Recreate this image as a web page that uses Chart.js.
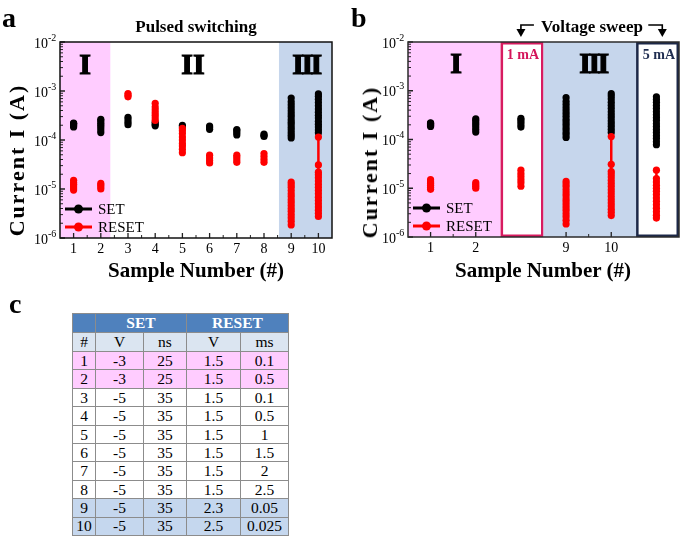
<!DOCTYPE html>
<html>
<head>
<meta charset="utf-8">
<script src="https://cdn.jsdelivr.net/npm/chart.js@4.4.1/dist/chart.umd.min.js"></script>
<style>
  body { margin: 0; width: 685px; height: 538px; background: #fff; position: relative; overflow: hidden;
         font-family: 'Liberation Serif', 'Times New Roman', serif; }
  canvas { position: absolute; }
  #chartA { left: 0; top: 0; }
  #chartB { left: 340px; top: 0; }
  .t { position: absolute; white-space: nowrap; line-height: 1; color: #000; }
  .bold { font-weight: bold; }
  .ctr { transform: translate(-50%, -50%); }
  .rot { transform: translate(-50%, -50%) rotate(-90deg); }
  .panel { font-size: 28px; font-weight: bold; }
  .ytitle { font-size: 22px; font-weight: bold; letter-spacing: 2px; }
  .xtitle { font-size: 21px; font-weight: bold; }
  .roman { font-size: 30px; font-weight: bold; -webkit-text-stroke: 1.2px #000; }
  #tbl { position: absolute; left: 72px; top: 313px; width: 216px; border-collapse: collapse;
         table-layout: fixed; font-size: 15.5px; }
  #tbl td { border: 1px solid #8c8c8c; text-align: center; padding: 0; line-height: 1; }
</style>
</head>
<body>
<canvas id="chartA" width="345" height="285"></canvas>
<canvas id="chartB" width="345" height="285"></canvas>

<div class="t panel" style="left:2px;top:3.5px;">a</div>
<div class="t panel" style="left:351px;top:3.5px;">b</div>
<div class="t panel" style="left:9px;top:289.5px;">c</div>

<div class="t bold ctr" style="left:196px;top:26px;font-size:17px;">Pulsed switching</div>
<div class="t bold ctr" style="left:592px;top:25.5px;font-size:17px;">Voltage sweep</div>

<div class="t ytitle rot" style="left:17px;top:160px;">Current I (A)</div>
<div class="t ytitle rot" style="left:370px;top:162px;">Current I (A)</div>
<div class="t xtitle ctr" style="left:196px;top:270px;">Sample Number (#)</div>
<div class="t xtitle ctr" style="left:543px;top:270px;">Sample Number (#)</div>

<div class="t roman ctr" style="left:85px;top:64px;">I</div>
<div class="t roman ctr" style="left:193px;top:64px;">II</div>
<div class="t roman ctr" style="left:306px;top:64px;letter-spacing:-2.5px;">III</div>
<div class="t roman ctr" style="left:456px;top:63px;">I</div>
<div class="t roman ctr" style="left:593px;top:63px;letter-spacing:-2.5px;">III</div>

<div class="t bold ctr" style="left:523px;top:55px;font-size:14px;color:#d4145a;">1 mA</div>
<div class="t bold ctr" style="left:659px;top:55px;font-size:14px;color:#1f2d50;">5 mA</div>

<table id="tbl"></table>

<script>
// ---- panel a: pulsed switching ----
const samplesA = [1, 2, 3, 4, 5, 6, 7, 8, 9, 10];
const setA = [
  [1.85e-4, 1.95e-4, 2.05e-4, 2.15e-4, 2.2e-4],
  [1.42e-4, 1.6e-4, 1.8e-4, 2.0e-4, 2.2e-4, 2.45e-4, 2.65e-4],
  [2.05e-4, 2.3e-4, 2.6e-4, 2.9e-4],
  [1.95e-4, 2.1e-4, 2.3e-4],
  [1.85e-4, 2.0e-4],
  [1.65e-4, 1.8e-4, 1.92e-4],
  [1.27e-4, 1.4e-4, 1.55e-4, 1.63e-4],
  [1.18e-4, 1.25e-4, 1.32e-4],
  [1.1e-4, 1.25e-4, 1.4e-4, 1.6e-4, 1.8e-4, 2.05e-4, 2.3e-4, 2.6e-4, 3.0e-4, 3.4e-4, 3.9e-4, 4.5e-4, 5.2e-4, 6.0e-4, 7.2e-4],
  [1.4e-4, 1.6e-4, 1.85e-4, 2.1e-4, 2.4e-4, 2.8e-4, 3.2e-4, 3.7e-4, 4.3e-4, 5.0e-4, 5.8e-4, 6.8e-4, 7.8e-4, 8.7e-4]
];
const resetA = [
  [9.5e-6, 1.05e-5, 1.15e-5, 1.25e-5, 1.35e-5, 1.5e-5],
  [1.0e-5, 1.1e-5, 1.2e-5, 1.3e-5],
  [7.6e-4, 8.2e-4, 8.9e-4],
  [2.5e-4, 2.8e-4, 3.2e-4, 3.6e-4, 4.1e-4, 4.7e-4, 5.6e-4],
  [5.5e-5, 6.5e-5, 7.5e-5, 8.5e-5, 1.0e-4, 1.15e-4, 1.35e-4, 1.55e-4, 1.72e-4],
  [3.4e-5, 3.8e-5, 4.3e-5, 4.9e-5],
  [3.5e-5, 3.9e-5, 4.4e-5, 4.9e-5],
  [3.5e-5, 4.0e-5, 4.6e-5, 5.3e-5],
  [1.85e-6, 2.2e-6, 2.6e-6, 3.0e-6, 3.5e-6, 4.0e-6, 4.6e-6, 5.3e-6, 6.0e-6, 7.0e-6, 8.0e-6, 9.3e-6, 1.08e-5, 1.22e-5, 1.38e-5],
  [2.75e-6, 3.2e-6, 3.7e-6, 4.3e-6, 5.0e-6, 5.8e-6, 6.8e-6, 8.0e-6, 9.3e-6, 1.08e-5, 1.25e-5, 1.45e-5, 1.7e-5, 1.95e-5, 2.2e-5, 3.1e-5, 1.15e-4]
];
const xTicksA = [1, 2, 3, 4, 5, 6, 7, 8, 9, 10];
const xTickLabelsA = ['1', '2', '3', '4', '5', '6', '7', '8', '9', '10'];

// ---- panel b: voltage sweep (x positions 3 and 6 are the 1 mA / 5 mA runs) ----
const samplesB = [1, 2, 3, 4, 5, 6];
const setB = [
  setA[0], setA[1],
  [1.8e-4, 2.0e-4, 2.25e-4, 2.5e-4, 2.7e-4],
  setA[8], setA[9],
  [7.8e-5, 9e-5, 1.05e-4, 1.2e-4, 1.4e-4, 1.6e-4, 1.85e-4, 2.1e-4, 2.45e-4, 2.8e-4, 3.2e-4, 3.7e-4, 4.3e-4, 5.0e-4, 5.8e-4, 6.6e-4, 7.5e-4]
];
const resetB = [
  resetA[0], resetA[1],
  [1.1e-5, 1.3e-5, 1.5e-5, 1.75e-5, 2.0e-5, 2.35e-5],
  resetA[8], resetA[9],
  [2.45e-6, 2.8e-6, 3.3e-6, 3.9e-6, 4.6e-6, 5.4e-6, 6.3e-6, 7.4e-6, 8.7e-6, 1.0e-5, 1.15e-5, 1.35e-5, 1.58e-5, 2.35e-5]
];
const xTicksB = [1, 2, 4, 5];
const xTickLabelsB = ['1', '2', '9', '10'];

const yExps = [-6, -5, -4, -3, -2];

// ---- table c ----
const tableIdx = [1, 2, 3, 4, 5, 6, 7, 8, 9, 10];
const setV = [-3, -3, -5, -5, -5, -5, -5, -5, -5, -5];
const setNs = [25, 25, 35, 35, 35, 35, 35, 35, 35, 35];
const resetV = ['1.5', '1.5', '1.5', '1.5', '1.5', '1.5', '1.5', '1.5', '2.3', '2.5'];
const resetMs = ['0.1', '0.5', '0.1', '0.5', '1', '1.5', '2', '2.5', '0.05', '0.025'];

const PINK = '#ffccff';
const BLUE = '#c6d6ec';
const SERIF = '"Liberation Serif", "Times New Roman", serif';

const toPoints = (xs, groups) => {
  const pts = [];
  groups.forEach((vals, i) => {
    vals.forEach((v) => pts.push({ x: xs[i], y: v }));
    pts.push({ x: xs[i], y: null }); // break the line between samples
  });
  return pts;
};

const makeDecor = (cfg) => ({
  id: 'decor',
  beforeDatasetsDraw(chart) {
    const { ctx, chartArea: a } = chart;
    const x = chart.scales.x;
    ctx.save();
    cfg.bands.forEach((b) => {
      const x0 = x.getPixelForValue(b.from);
      const x1 = x.getPixelForValue(b.to);
      ctx.fillStyle = b.fill;
      ctx.fillRect(x0, a.top, x1 - x0, a.bottom - a.top);
      if (b.stroke) {
        ctx.strokeStyle = b.stroke;
        ctx.lineWidth = b.lw;
        ctx.strokeRect(x0 + b.lw / 2, a.top + b.lw / 2, x1 - x0 - b.lw, a.bottom - a.top - b.lw);
      }
    });
    ctx.restore();
  },
  afterDatasetsDraw(chart) {
    const { ctx, chartArea: a } = chart;
    const x = chart.scales.x;
    const y = chart.scales.y;
    ctx.save();
    ctx.strokeStyle = '#222';

    // minor ticks
    ctx.lineWidth = 1;
    ctx.beginPath();
    yExps.forEach((e) => {
      if (e >= -2) return;
      for (let m = 2; m < 10; m++) {
        const py = y.getPixelForValue(m * Math.pow(10, e));
        ctx.moveTo(a.left, py);
        ctx.lineTo(a.left + 3, py);
      }
    });
    cfg.xMinor.forEach((v) => {
      const px = x.getPixelForValue(v);
      ctx.moveTo(px, a.bottom);
      ctx.lineTo(px, a.bottom - 3);
    });
    ctx.stroke();

    // major ticks
    ctx.lineWidth = 1.3;
    ctx.beginPath();
    yExps.forEach((e) => {
      const py = y.getPixelForValue(Math.pow(10, e));
      ctx.moveTo(a.left, py);
      ctx.lineTo(a.left + 5, py);
    });
    cfg.xMajor.forEach((v) => {
      const px = x.getPixelForValue(v);
      ctx.moveTo(px, a.bottom);
      ctx.lineTo(px, a.bottom - 5);
    });
    ctx.stroke();

    // frame
    ctx.lineWidth = 1.5;
    ctx.strokeStyle = cfg.frame;
    ctx.strokeRect(a.left, a.top, a.right - a.left, a.bottom - a.top);

    // tick labels
    ctx.fillStyle = '#000';
    ctx.textBaseline = 'middle';
    yExps.forEach((e) => {
      const py = y.getPixelForValue(Math.pow(10, e));
      ctx.font = `14px ${SERIF}`;
      ctx.textAlign = 'right';
      ctx.fillText('10', a.left - 12, py + 2);
      ctx.font = `10px ${SERIF}`;
      ctx.textAlign = 'left';
      ctx.fillText(String(e), a.left - 12, py - 4);
    });
    ctx.font = `14px ${SERIF}`;
    ctx.textAlign = 'center';
    cfg.xMajor.forEach((v, i) => {
      ctx.fillText(cfg.xLabels[i], x.getPixelForValue(v), a.bottom + 11);
    });

    // legend (bottom left, inside the plot)
    chart.data.datasets.forEach((ds, i) => {
      const ly = a.bottom - 29 + i * 18;
      ctx.strokeStyle = ds.borderColor;
      ctx.lineWidth = 3;
      ctx.beginPath();
      ctx.moveTo(a.left + 5, ly);
      ctx.lineTo(a.left + 32, ly);
      ctx.stroke();
      ctx.fillStyle = ds.borderColor;
      ctx.beginPath();
      ctx.arc(a.left + 18.5, ly, 4.5, 0, Math.PI * 2);
      ctx.fill();
      ctx.fillStyle = '#000';
      ctx.font = `15px ${SERIF}`;
      ctx.textAlign = 'left';
      ctx.fillText(ds.label, a.left + 38, ly + 1);
    });

    if (cfg.arrows) cfg.arrows(chart);
    ctx.restore();
  },
});

const makeDatasets = (xs, setVals, resetVals) => [
  {
    label: 'SET',
    data: toPoints(xs, setVals),
    showLine: true,
    borderColor: '#000000',
    backgroundColor: '#000000',
    borderWidth: 2.5,
    pointRadius: 3.6,
    pointHoverRadius: 3.6,
    pointBorderWidth: 0,
    order: 1,
  },
  {
    label: 'RESET',
    data: toPoints(xs, resetVals),
    showLine: true,
    borderColor: '#ff0000',
    backgroundColor: '#ff0000',
    borderWidth: 2.5,
    pointRadius: 3.6,
    pointHoverRadius: 3.6,
    pointBorderWidth: 0,
    order: 0,
  },
];

const makeOptions = (xMin, xMax, yWidth, padRight, xHeight) => ({
  responsive: false,
  animation: false,
  devicePixelRatio: 1,
  layout: { padding: { top: 42, right: padRight, left: 0, bottom: 0 } },
  plugins: { legend: { display: false }, tooltip: { enabled: false } },
  scales: {
    x: {
      type: 'linear', min: xMin, max: xMax,
      grid: { display: false }, border: { display: false }, ticks: { display: false },
      afterFit(s) { s.height = xHeight; },
    },
    y: {
      type: 'logarithmic', min: 1e-6, max: 1e-2,
      grid: { display: false }, border: { display: false }, ticks: { display: false },
      afterFit(s) { s.width = yWidth; },
    },
  },
});

new Chart(document.getElementById('chartA'), {
  type: 'scatter',
  data: { datasets: makeDatasets(samplesA, setA, resetA) },
  options: makeOptions(0.5, 10.5, 60, 13, 47),
  plugins: [makeDecor({
    bands: [
      { from: 0.5, to: 2.35, fill: PINK },
      { from: 8.55, to: 10.5, fill: BLUE },
    ],
    xMajor: xTicksA,
    xLabels: xTickLabelsA,
    xMinor: [1.5, 2.5, 3.5, 4.5, 5.5, 6.5, 7.5, 8.5, 9.5],
    frame: '#111',
  })],
});

// bracket arrows of "Voltage sweep", pointing at the 1 mA and 5 mA boxes
const drawSweepArrows = (chart) => {
  const { ctx } = chart;
  const x = chart.scales.x;
  const left = x.getPixelForValue(3);
  const right = x.getPixelForValue(6.13);
  ctx.strokeStyle = '#000';
  ctx.fillStyle = '#000';
  ctx.lineWidth = 1.6;
  ctx.beginPath();
  ctx.moveTo(left + 13, 25);
  ctx.lineTo(left, 25);
  ctx.lineTo(left, 31);
  ctx.moveTo(right - 14, 25);
  ctx.lineTo(right, 25);
  ctx.lineTo(right, 31);
  ctx.stroke();
  [left, right].forEach((px) => {
    ctx.beginPath();
    ctx.moveTo(px - 4.5, 29);
    ctx.lineTo(px + 4.5, 29);
    ctx.lineTo(px, 37);
    ctx.closePath();
    ctx.fill();
  });
};

new Chart(document.getElementById('chartB'), {
  type: 'scatter',
  data: { datasets: makeDatasets(samplesB, setB, resetB) },
  options: makeOptions(0.5, 6.5, 68, 6, 48),
  plugins: [makeDecor({
    bands: [
      { from: 0.5, to: 2.55, fill: PINK },
      { from: 2.55, to: 3.5, fill: '#ffffff', stroke: '#d81b60', lw: 2.5 },
      { from: 3.5, to: 5.55, fill: BLUE },
      { from: 5.55, to: 6.5, fill: '#ffffff', stroke: '#1c2848', lw: 2.5 },
    ],
    xMajor: xTicksB,
    xLabels: xTickLabelsB,
    xMinor: [1.5, 4.5],
    frame: '#2b2b2b',
    arrows: drawSweepArrows,
  })],
});

// ---- table ----
const rowFill = (i) => (i < 2 ? PINK : i >= 8 ? '#c5d7ee' : '#ffffff');
const tbl = document.getElementById('tbl');
tbl.innerHTML = `
  <colgroup><col style="width:23px"><col style="width:48px"><col style="width:43px"><col style="width:54px"><col style="width:48px"></colgroup>
  <tr style="height:19px;background:#4f81bd;color:#fff;font-weight:bold;">
    <td></td><td colspan="2">SET</td><td colspan="2">RESET</td></tr>
  <tr style="height:19px;background:#dbe5f1;">
    <td>#</td><td>V</td><td>ns</td><td>V</td><td>ms</td></tr>
  ${tableIdx.map((n, i) => `<tr style="height:18.4px;background:${rowFill(i)};">
    <td>${n}</td><td>${setV[i]}</td><td>${setNs[i]}</td><td>${resetV[i]}</td><td>${resetMs[i]}</td></tr>`).join('')}
`;
</script>
</body>
</html>
